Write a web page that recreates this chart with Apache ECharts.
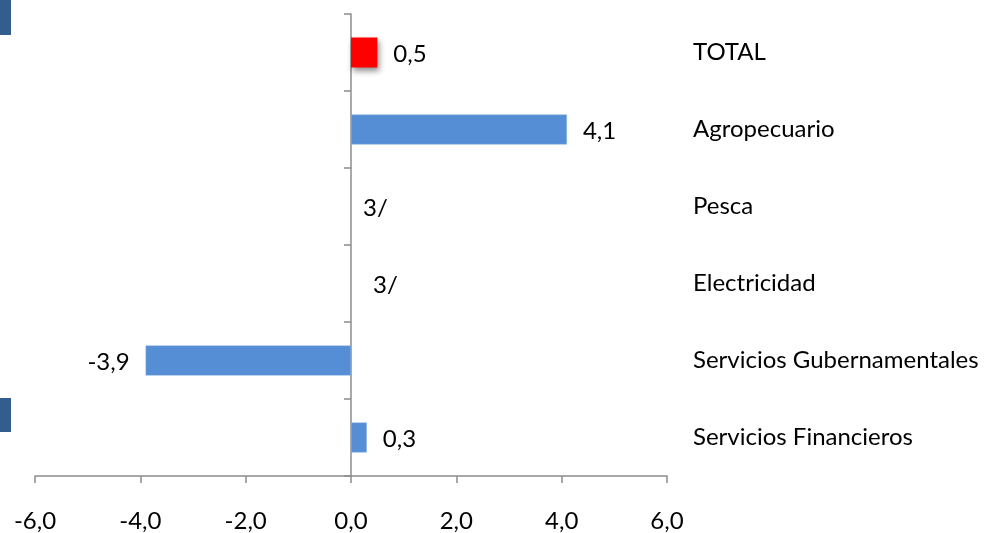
<!DOCTYPE html>
<html>
<head>
<meta charset="utf-8">
<script src="https://cdn.jsdelivr.net/npm/echarts@6/dist/echarts.min.js"></script>
<style>html,body{margin:0;padding:0;background:#fff;}#c{width:990px;height:533px;}</style>
</head>
<body>
<div id="c"></div>
<script>
var categories = ['TOTAL', 'Agropecuario', 'Pesca', 'Electricidad', 'Servicios Gubernamentales', 'Servicios Financieros'];
var values = [0.5, 4.1, 0, 0, -3.9, 0.3];
var valueLabels = ['0,5', '4,1', '3/', '3/', '-3,9', '0,3'];
var xTicks = [-6, -4, -2, 0, 2, 4, 6];

var FONT = 'Lato';
var FS = 24;
var chart = echarts.init(document.getElementById('c'));
var data = values.map(function (v, i) {
  var item = { value: v };
  if (i === 0) {
    item.itemStyle = { color: '#FF0000', shadowColor: 'rgba(0,0,0,0.45)', shadowBlur: 6, shadowOffsetX: 2, shadowOffsetY: 3, borderWidth: 0 };
  }
  if (v < 0) item.label = { position: 'left' };
  if (v === 0) item.itemStyle = { borderWidth: 0, color: 'rgba(0,0,0,0)' };
  if (i === 2) item.label = { distance: 12 };
  if (i === 3) item.label = { distance: 22 };
  return item;
});
chart.setOption({
  animation: false,
  grid: { left: 35, right: 323, top: 14, bottom: 56 },
  xAxis: {
    type: 'value', min: -6, max: 6, interval: 2,
    axisLine: { show: true, lineStyle: { color: '#8c8c8c', width: 1.5 } },
    axisTick: { show: true, length: 7, lineStyle: { color: '#8c8c8c', width: 1.5 } },
    splitLine: { show: false },
    axisLabel: {
      margin: 33, fontFamily: FONT, fontSize: FS, color: '#000',
      formatter: function (v) { return v.toFixed(1).replace('.', ','); }
    }
  },
  yAxis: [{
    type: 'category', data: categories, inverse: true,
    axisLine: { show: true, onZero: true, lineStyle: { color: '#8c8c8c', width: 1.5 } },
    axisTick: { show: true, inside: false, length: 7, lineStyle: { color: '#8c8c8c', width: 1.5 } },
    axisLabel: { show: false }
  }, {
    type: 'category', data: categories, inverse: true, position: 'right',
    axisLine: { show: false }, axisTick: { show: false },
    axisLabel: { margin: 26, align: 'left', fontFamily: FONT, fontSize: FS, color: '#000', padding: [5, 0, 0, 0] }
  }],
  series: [{
    type: 'bar', data: data, barWidth: 30, yAxisIndex: 0,
    itemStyle: { color: '#558ED5', borderColor: '#8db3e2', borderWidth: 0.5 },
    label: {
      show: true, position: 'right', distance: 16, offset: [0, 2], fontFamily: FONT, fontSize: FS, color: '#000',
      formatter: function (p) { return valueLabels[p.dataIndex]; }
    }
  }],
  graphic: [
    { type: 'rect', shape: { x: 0, y: 0, width: 11, height: 35 }, style: { fill: '#335D8F' } },
    { type: 'rect', shape: { x: 0, y: 398, width: 11, height: 34 }, style: { fill: '#335D8F' } }
  ]
});
</script>
</body>
</html>
